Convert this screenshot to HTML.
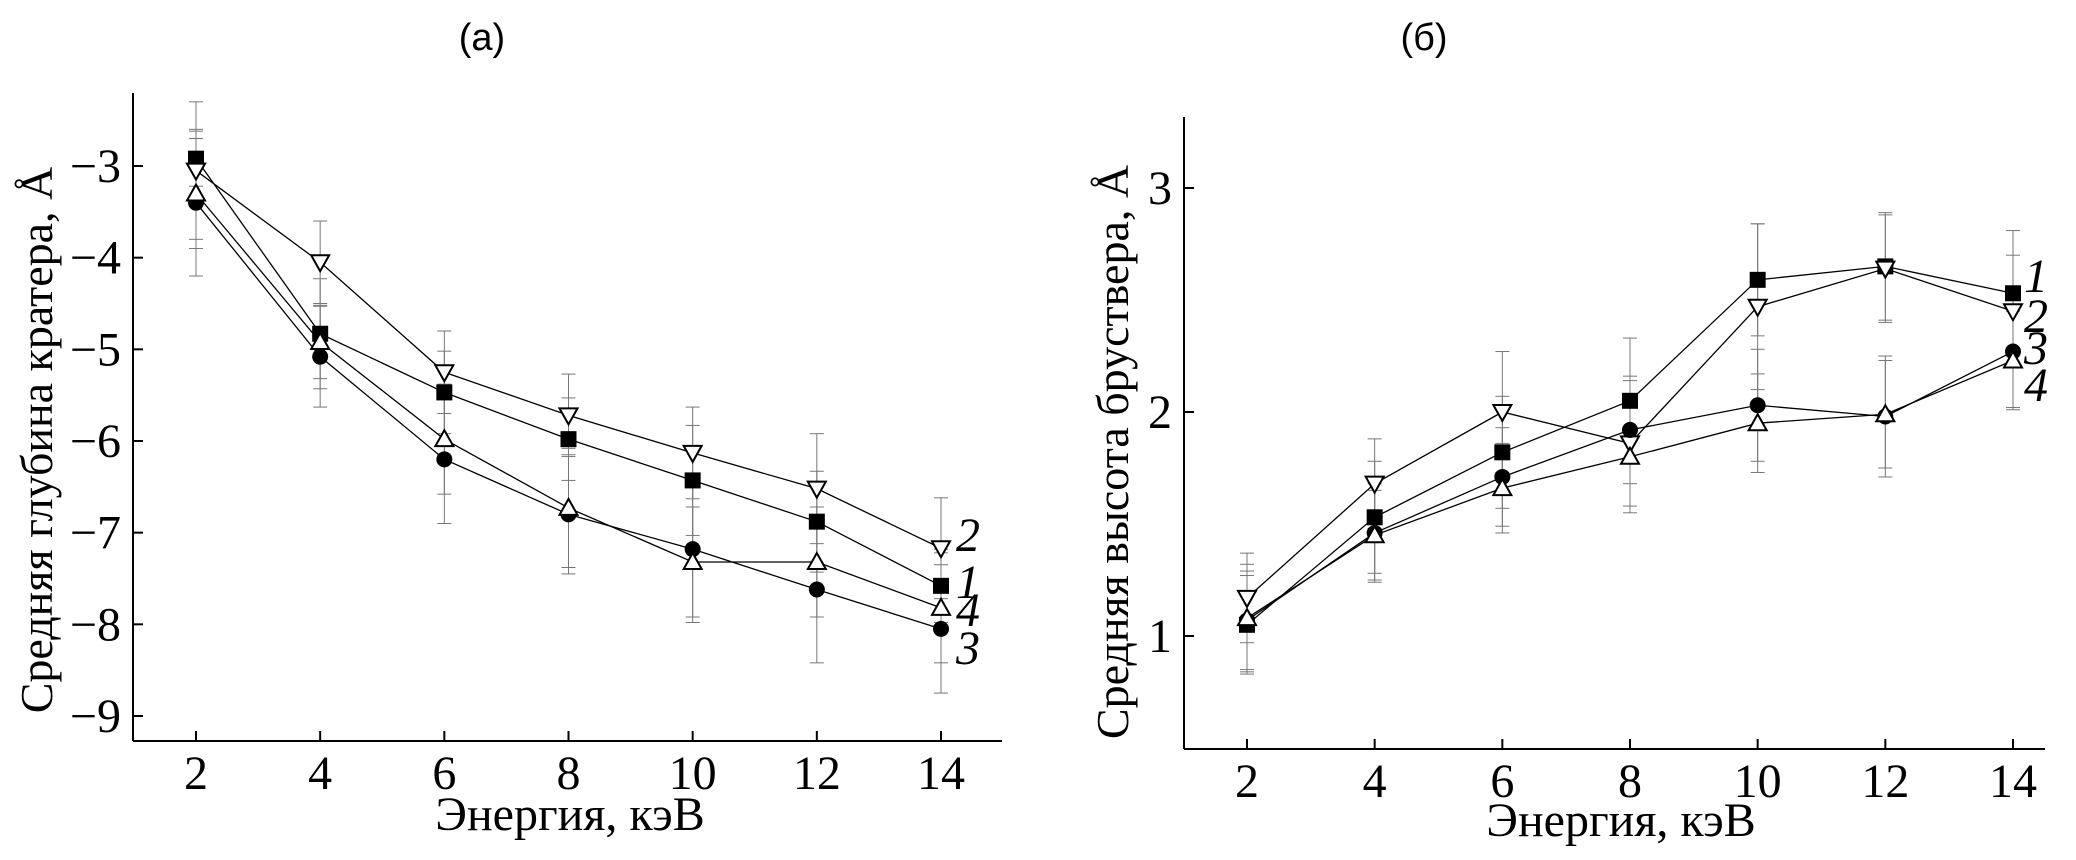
<!DOCTYPE html>
<html><head><meta charset="utf-8"><style>
html,body{margin:0;padding:0;background:#fff;}
svg{display:block;font-family:"Liberation Serif",serif;}
</style></head><body>
<svg id="svg" width="2076" height="860" xmlns="http://www.w3.org/2000/svg">
<text x="482" y="50" font-family="Liberation Sans, sans-serif" font-size="38" text-anchor="middle">(a)</text>
<text x="1424" y="50" font-family="Liberation Sans, sans-serif" font-size="38" text-anchor="middle">(б)</text>
<text transform="translate(52,440) rotate(-90)" font-size="46" text-anchor="middle">Средняя глубина кратера, Å</text>
<text transform="translate(1128,452) rotate(-90)" font-size="46" text-anchor="middle">Средняя высота бруствера, Å</text>
<text x="570" y="830" font-size="48" text-anchor="middle">Энергия, кэВ</text>
<text x="1621" y="836" font-size="48" text-anchor="middle">Энергия, кэВ</text>
</svg>
<script>
const energies=[2,4,6,8,10,12,14];
const aS1=[-2.92,-4.83,-5.47,-5.98,-6.43,-6.88,-7.58];
const aS2=[-3.05,-4.05,-5.25,-5.72,-6.13,-6.52,-7.17];
const aS3=[-3.4,-5.08,-6.2,-6.8,-7.18,-7.62,-8.05];
const aS4=[-3.3,-4.92,-5.98,-6.73,-7.32,-7.32,-7.82];
const aE1=[0.3,0.6,0.45,0.45,0.6,0.55,0.4];
const aE2=[0.75,0.45,0.45,0.45,0.5,0.6,0.55];
const aE3=[0.8,0.55,0.7,0.65,0.8,0.8,0.7];
const aE4=[0.6,0.4,0.6,0.65,0.6,0.6,0.6];
const aTicks=[-3,-4,-5,-6,-7,-8,-9];
const bS1=[1.05,1.53,1.82,2.05,2.59,2.65,2.53];
const bS2=[1.17,1.68,2.0,1.86,2.47,2.64,2.45];
const bS3=[1.07,1.46,1.71,1.92,2.03,1.98,2.27];
const bS4=[1.08,1.45,1.66,1.80,1.95,1.99,2.23];
const bE1=[0.22,0.25,0.25,0.28,0.25,0.24,0.28];
const bE2=[0.2,0.2,0.27,0.28,0.37,0.24,0.25];
const bE3=[0.22,0.22,0.22,0.24,0.25,0.27,0.25];
const bE4=[0.24,0.2,0.2,0.25,0.22,0.24,0.22];
const bTicks=[1,2,3];
const labels=["1","2","3","4"];
const svg=document.getElementById('svg');
const NS='http://www.w3.org/2000/svg';
function mk(tag,a){const e=document.createElementNS(NS,tag);for(const k in a)e.setAttribute(k,a[k]);svg.appendChild(e);return e;}
function panel(p){
  const X=v=>p.x0+(v-2)/12*(p.x1-p.x0);
  const Y=v=>p.y0+(v-p.v0)/(p.v1-p.v0)*(p.y1-p.y0);
  let e=mk('line',{x1:p.ax,y1:p.top,x2:p.ax,y2:p.bot,stroke:'#000','stroke-width':2});
  
  e=mk('line',{x1:p.ax,y1:p.bot,x2:p.right,y2:p.bot,stroke:'#000','stroke-width':2});
  
  energies.forEach(v=>{
    mk('line',{x1:X(v),y1:p.bot,x2:X(v),y2:p.bot-10,stroke:'#000','stroke-width':2});
    e=mk('text',{x:X(v),y:p.bot+48,'font-size':48,'text-anchor':'middle'});e.textContent=v;
    
  });
  p.ticks.forEach(v=>{
    mk('line',{x1:p.ax,y1:Y(v),x2:p.ax+10,y2:Y(v),stroke:'#000','stroke-width':2});
    e=mk('text',{x:p.ax-12,y:Y(v)+16,'font-size':48,'text-anchor':'end'});e.textContent=(v<0?'−'+(-v):v);
    
  });
  const kinds=['square','down','circle','up'];
  p.series.forEach((s,i)=>{
    const err=p.errs[i];
    s.forEach((v,j)=>{
      const x=X(energies[j]);
      mk('line',{x1:x,y1:Y(v-err[j]),x2:x,y2:Y(v+err[j]),stroke:'#777','stroke-width':1});
      [v-err[j],v+err[j]].forEach(w=>mk('line',{x1:x-7,y1:Y(w),x2:x+7,y2:Y(w),stroke:'#777','stroke-width':1}));
    });
    e=mk('polyline',{points:s.map((v,j)=>X(energies[j])+','+Y(v)).join(' '),fill:'none',stroke:'#000','stroke-width':1.3});
    
  });
  p.series.forEach((s,i)=>{
    s.forEach((v,j)=>{
      const x=X(energies[j]),y=Y(v);let m;
      if(kinds[i]=='square')m=mk('rect',{x:x-8,y:y-8,width:16,height:16,fill:'#000'});
      else if(kinds[i]=='circle')m=mk('circle',{cx:x,cy:y,r:8,fill:'#000'});
      else if(kinds[i]=='down')m=mk('polygon',{points:`${x-9},${y-7} ${x+9},${y-7} ${x},${y+9}`,fill:'#fff',stroke:'#000','stroke-width':2});
      else m=mk('polygon',{points:`${x-9},${y+7} ${x+9},${y+7} ${x},${y-9}`,fill:'#fff',stroke:'#000','stroke-width':2});
      
    });
  });
  p.lab.forEach((ly,i)=>{
    e=mk('text',{x:p.labx,y:ly,'font-size':48,'font-style':'italic'});e.textContent=labels[i];
    
  });
}
panel({id:'a',x0:196,x1:941,ax:133,right:1002,top:93,bot:741,v0:-3,v1:-9,y0:166,y1:716,ticks:aTicks,
  series:[aS1,aS2,aS3,aS4],errs:[aE1,aE2,aE3,aE4],labx:956,lab:[598,551,664,626]});
panel({id:'b',x0:1247,x1:2013,ax:1184,right:2045,top:117,bot:749,v0:1,v1:3,y0:636,y1:188,ticks:bTicks,
  series:[bS1,bS2,bS3,bS4],errs:[bE1,bE2,bE3,bE4],labx:2024,lab:[292,332,364,401]});
</script>
</body></html>
